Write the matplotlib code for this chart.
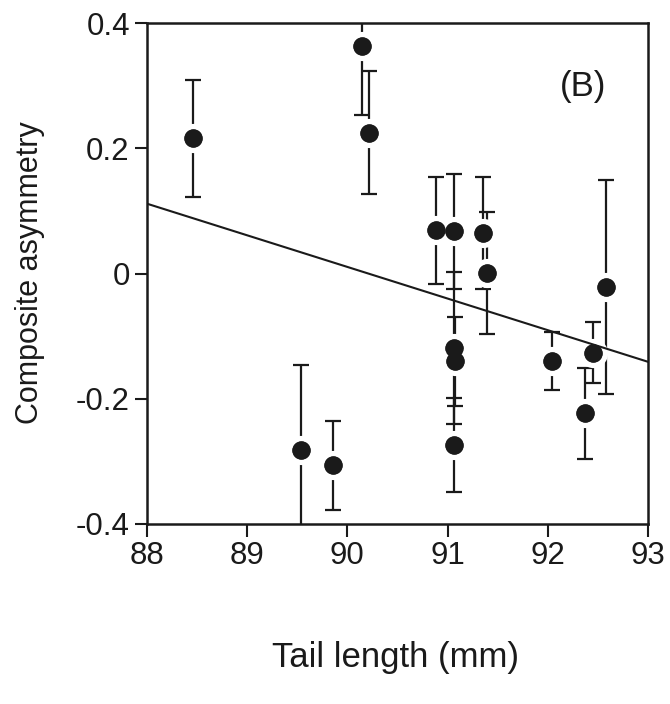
import matplotlib
matplotlib.use("Agg")
import matplotlib.pyplot as plt

plt.rcParams['font.family'] = ['Liberation Sans', 'DejaVu Sans']

# Data
tail_length = [88.46, 90.15, 90.22, 89.54, 89.86, 90.88, 91.06, 91.06, 91.07,
               91.06, 91.35, 91.39, 92.04, 92.37, 92.45, 92.58]
asymmetry = [0.216, 0.363, 0.225, -0.281, -0.306, 0.069, 0.068, -0.119, -0.140,
             -0.274, 0.065, 0.001, -0.140, -0.223, -0.126, -0.022]
error = [0.094, 0.109, 0.098, 0.135, 0.071, 0.085, 0.092, 0.121, 0.071,
         0.075, 0.089, 0.097, 0.046, 0.073, 0.048, 0.171]
fit_x = [88, 93]
fit_y = [0.112, -0.141]

x_ticks = [88, 89, 90, 91, 92, 93]
y_ticks = [-0.4, -0.2, 0, 0.2, 0.4]
y_tick_labels = ['-0.4', '-0.2', '0', '0.2', '0.4']

ink = '#1a1a1a'

fig = plt.figure(figsize=(6.7, 7.04), dpi=100)
ax = fig.add_axes([0.2187, 0.2557, 0.7489, 0.7112])

ax.plot(fit_x, fit_y, color=ink, lw=1.5, zorder=3.5)
ax.errorbar(tail_length, asymmetry, yerr=error, fmt='none', ecolor=ink,
            elinewidth=1.6, capsize=6, capthick=1.6, zorder=2)
# white halo around markers (breaks the error bars)
ax.plot(tail_length, asymmetry, 'o', ms=17, mfc=ink, mec='white',
        mew=4, ls='none', zorder=3)
ax.plot(tail_length, asymmetry, 'o', ms=13.3, mfc=ink, mec='none',
        ls='none', zorder=4)

ax.set_xlim(88, 93)
ax.set_ylim(-0.4, 0.4)
ax.set_xticks(x_ticks)
ax.set_xticklabels([str(t) for t in x_ticks])
ax.set_yticks(y_ticks)
ax.set_yticklabels(y_tick_labels)

for s in ax.spines.values():
    s.set_linewidth(1.8)
    s.set_color(ink)
ax.tick_params(direction='out', length=9, width=1.5, labelsize=22.5,
               color=ink, labelcolor=ink, pad=3)

ax.text(583 / 670, 1 - 86.7 / 704, '(B)', transform=fig.transFigure,
        fontsize=25, ha='center', va='center', color=ink)

fig.text(395 / 670, 1 - 657 / 704, 'Tail length (mm)', fontsize=25,
         ha='center', va='center', color=ink)
fig.text(30 / 670, 1 - 273 / 704, 'Composite asymmetry', fontsize=22,
         ha='center', va='center', rotation=90, color=ink)

fig.savefig('out.png', dpi=100)
